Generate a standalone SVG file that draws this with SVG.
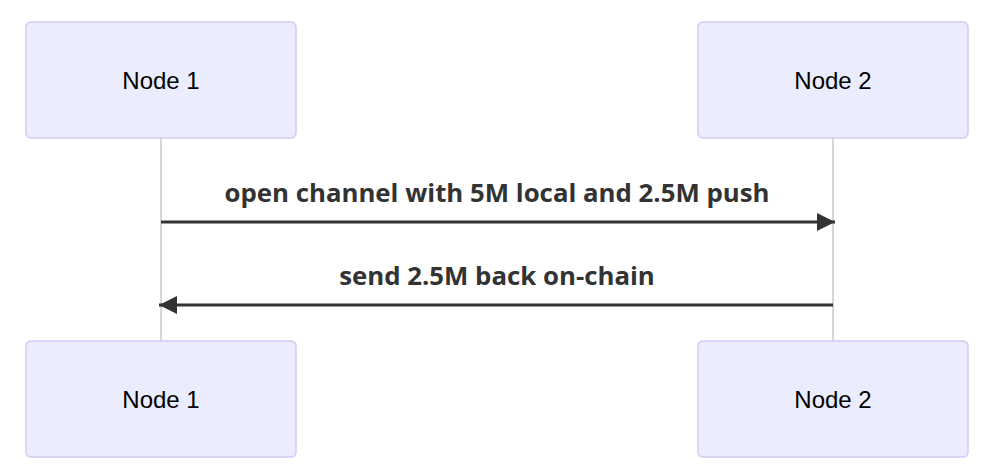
<svg xmlns="http://www.w3.org/2000/svg" width="984" height="474" viewBox="0 0 984 474">
<style>
.actor{fill:#ECECFF;stroke:#D6C8F5;stroke-width:1.5}
.atext{font-family:"Liberation Sans",Arial,sans-serif;font-size:24px;fill:#000;text-anchor:middle;dominant-baseline:central}
.life{stroke:#C8C8C8;stroke-width:1.5}
.msg{stroke:#333;stroke-width:3;fill:none}
.mtext{font-family:"Open Sans","DejaVu Sans",sans-serif;font-weight:bold;font-size:25.8px;fill:#333;text-anchor:middle}
</style>
<defs>
<marker id="arrow" viewBox="0 0 18 18" refX="18" refY="9" markerWidth="18" markerHeight="18" markerUnits="userSpaceOnUse" orient="auto">
<path d="M0,0 L18,9 L0,18 z" fill="#333"/>
</marker>
</defs>
<rect width="984" height="474" fill="#fff"/>
<g id="lifelines">
<line class="life" x1="161" y1="138" x2="161" y2="341"/>
<line class="life" x1="833" y1="138" x2="833" y2="341"/>
</g>
<g id="node1-top"><rect class="actor" x="26" y="22" width="270" height="116" rx="5"/><text class="atext" x="161" y="80">Node 1</text></g>
<g id="node2-top"><rect class="actor" x="698" y="22" width="270" height="116" rx="5"/><text class="atext" x="833" y="80">Node 2</text></g>
<g id="node1-bottom"><rect class="actor" x="26" y="341" width="270" height="116" rx="5"/><text class="atext" x="161" y="399">Node 1</text></g>
<g id="node2-bottom"><rect class="actor" x="698" y="341" width="270" height="116" rx="5"/><text class="atext" x="833" y="399">Node 2</text></g>
<g id="connectors">
<line class="msg" x1="161" y1="222" x2="835" y2="222" marker-end="url(#arrow)"/>
<text class="mtext" x="497" y="202">open channel with 5M local and 2.5M push</text>
<line class="msg" x1="833" y1="305" x2="159" y2="305" marker-end="url(#arrow)"/>
<text class="mtext" x="497" y="285">send 2.5M back on-chain</text>
</g>
</svg>
